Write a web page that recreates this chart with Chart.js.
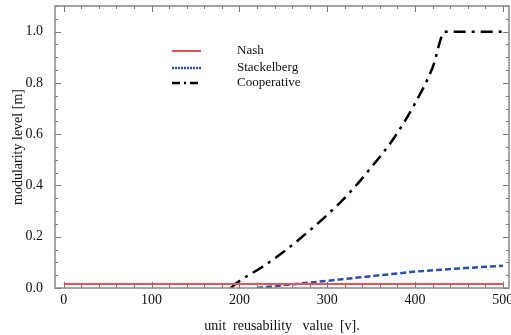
<!DOCTYPE html>
<html>
<head>
<meta charset="utf-8">
<script src="https://cdn.jsdelivr.net/npm/chart.js@4.4.1/dist/chart.umd.min.js"></script>
<style>
  html, body { margin: 0; padding: 0; background: #fff; }
  #wrap { width: 511px; height: 335px; }
</style>
</head>
<body>
<div id="wrap"><canvas id="modChart" width="511" height="335"></canvas></div>
<script>
// values
const nashX = [0, 500];
const nashY = [0.016, 0.016];
const stackX = [220, 250, 300, 350, 400, 450, 500];
const stackY = [0.0, 0.011, 0.028, 0.046, 0.064, 0.076, 0.087];
const coopX = [190, 200, 225, 250, 275, 300, 325, 350, 375, 400, 420, 434, 500];
const coopY = [0.0, 0.027, 0.08, 0.14, 0.21, 0.285, 0.37, 0.47, 0.58, 0.72, 0.86, 1.0, 1.0];
const xTicks = [0, 100, 200, 300, 400, 500];
const yTicks = [0.0, 0.2, 0.4, 0.6, 0.8, 1.0];

function pts(xs, ys) {
  return xs.map((x, i) => ({ x: x, y: ys[i] }));
}

const serif = "'Liberation Serif', 'DejaVu Serif', serif";

// inward ticks on all four sides + legend inside the plot
const frameTicks = {
  id: "frameTicks",
  afterDraw(chart) {
    const ctx = chart.ctx;
    const a = chart.chartArea;
    const xs = chart.scales.x;
    const ys = chart.scales.y;
    ctx.save();
    ctx.strokeStyle = "#777";
    ctx.lineWidth = 1;
    for (let v = 0; v <= 500; v += 20) {
      const p = Math.round(xs.getPixelForValue(v)) + 0.5;
      const len = v % 100 === 0 ? 6 : 3;
      ctx.beginPath();
      ctx.moveTo(p, a.bottom); ctx.lineTo(p, a.bottom - len);
      ctx.moveTo(p, a.top); ctx.lineTo(p, a.top + len);
      ctx.stroke();
    }
    for (let k = 0; k <= 22; k++) {
      const v = k * 0.05;
      const p = Math.round(ys.getPixelForValue(v)) + 0.5;
      const len = k % 4 === 0 ? 6 : 3;
      ctx.beginPath();
      ctx.moveTo(a.left, p); ctx.lineTo(a.left + len, p);
      ctx.moveTo(a.right, p); ctx.lineTo(a.right - len, p);
      ctx.stroke();
    }
    // frame
    ctx.strokeStyle = "#888";
    ctx.lineWidth = 1.5;
    ctx.strokeRect(a.left, a.top, a.right - a.left, a.bottom - a.top);

    // legend
    const items = chart.data.datasets;
    const rows = [51, 68, 83];
    ctx.font = "13px " + serif;
    ctx.textBaseline = "middle";
    items.forEach((ds, i) => {
      ctx.strokeStyle = ds.borderColor;
      ctx.lineWidth = ds.borderWidth;
      ctx.setLineDash(ds.legendDash || []);
      ctx.beginPath();
      ctx.moveTo(172, rows[i]);
      ctx.lineTo(201, rows[i]);
      ctx.stroke();
      ctx.setLineDash([]);
      ctx.fillStyle = "#111";
      ctx.fillText(ds.label, 237, rows[i]);
    });
    ctx.restore();
  }
};

new Chart(document.getElementById("modChart").getContext("2d"), {
  type: "line",
  data: {
    datasets: [
      {
        label: "Nash",
        data: pts(nashX, nashY),
        borderColor: "rgb(240, 80, 80)",
        borderWidth: 2,
        legendDash: [],
      },
      {
        label: "Stackelberg",
        data: pts(stackX, stackY),
        borderColor: "rgb(40, 80, 175)",
        borderWidth: 2.5,
        borderDash: [6, 3],
        legendDash: [2, 1],
      },
      {
        label: "Cooperative",
        data: pts(coopX, coopY),
        borderColor: "#000",
        borderWidth: 2.5,
        borderDash: [12, 6, 3, 6],
        legendDash: [8, 4, 2, 4],
        cubicInterpolationMode: "monotone",
      },
    ],
  },
  options: {
    responsive: false,
    animation: false,
    elements: { point: { radius: 0 }, line: { tension: 0 } },
    layout: { padding: { top: 6, right: 2, left: 0, bottom: 0 } },
    plugins: {
      legend: { display: false },
      tooltip: { enabled: false },
    },
    scales: {
      x: {
        type: "linear",
        min: -10,
        max: 507,
        afterBuildTicks(scale) {
          scale.ticks = xTicks.map((v) => ({ value: v }));
        },
        afterFit(scale) {
          scale.height = 47;
          scale.paddingLeft = 0;
          scale.paddingRight = 0;
        },
        grid: { display: false, drawTicks: false },
        border: { display: false },
        ticks: {
          color: "#111",
          padding: 4,
          font: { family: serif, size: 14 },
          maxRotation: 0,
        },
        title: {
          display: true,
          text: "unit  reusability   value  [v].",
          color: "#111",
          font: { family: serif, size: 14 },
          padding: { top: 3, bottom: 0 },
        },
      },
      y: {
        type: "linear",
        min: 0,
        max: 1.1,
        afterBuildTicks(scale) {
          scale.ticks = yTicks.map((v) => ({ value: v }));
        },
        afterFit(scale) {
          scale.width = 55;
          scale.paddingTop = 0;
          scale.paddingBottom = 0;
        },
        grid: { display: false, drawTicks: false },
        border: { display: false },
        ticks: {
          color: "#111",
          padding: 12,
          font: { family: serif, size: 14 },
          callback: (v) => v.toFixed(1),
        },
        title: {
          display: true,
          text: "modularity level [m]",
          color: "#111",
          font: { family: serif, size: 14 },
          padding: { top: 10, bottom: 4 },
        },
      },
    },
  },
  plugins: [frameTicks],
});
</script>
</body>
</html>
